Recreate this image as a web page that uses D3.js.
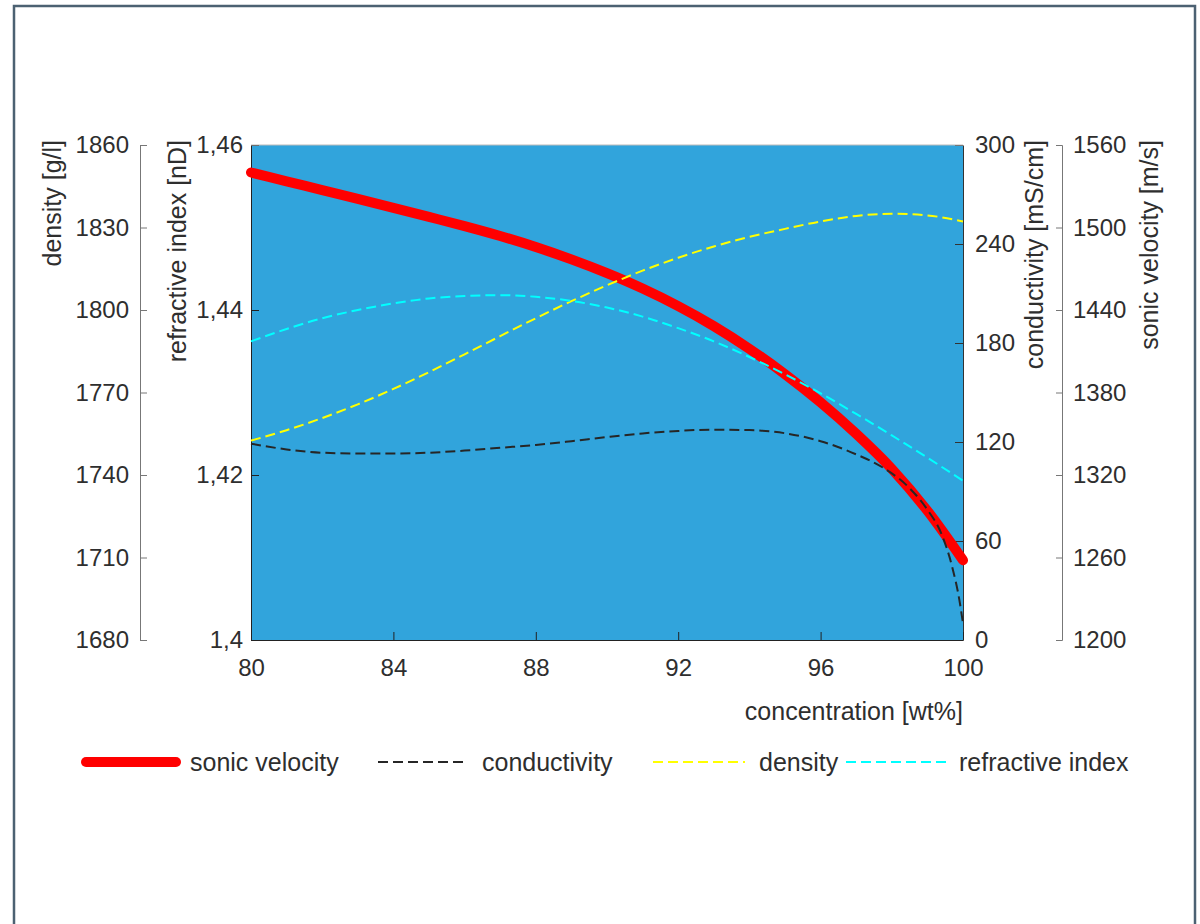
<!DOCTYPE html>
<html>
<head>
<meta charset="utf-8">
<script src="https://cdn.jsdelivr.net/npm/d3@7"></script>
<style>
  body { margin: 0; background: #fff; }
  svg { display: block; }
  text { font-family: "Liberation Sans", Arial, sans-serif; fill: #2e2e2e; }
  .tick text { font-size: 24px; }
</style>
</head>
<body>
<div id="chart"></div>
<script>
// concentration [wt%]
const conc = [80,81,82,83,84,85,86,87,88,89,90,91,92,93,94,95,96,97,98,99,100];
// sonic velocity [m/s]
const sonic = [1540,1533.6,1527.2,1520.8,1514.3,1507.7,1501,1493.8,1485.8,1476.8,1466.8,1455.6,1442.8,1428.3,1411.8,1393.3,1372.8,1350,1324.5,1294,1258];
// density [g/l]
const density = [1752.5,1756.3,1760.7,1765.7,1771.3,1777.4,1783.9,1790.5,1797,1803.2,1809,1814.3,1819,1823.1,1826.6,1829.5,1832.2,1834.2,1835,1834.4,1832.2];
// refractive index [nD]
const refr = [1.4362,1.4377,1.4390,1.4400,1.4408,1.4414,1.4417,1.4418,1.4416,1.4411,1.4403,1.4392,1.4378,1.4362,1.4343,1.4322,1.4299,1.4274,1.4248,1.4221,1.4193];
// conductivity [mS/cm] (denser near 100)
const condX = [80,81,82,83,84,85,86,87,88,89,90,91,92,93,94,95,96,97,97.75,98.5,99,99.4,99.7,99.9,100];
const condY = [119,115.5,113.5,113,113,113.5,114.8,116.5,118.2,120.5,123,125.2,126.7,127.5,127.2,125.3,120.5,112.5,104.5,92,79,64,44,24,10];

const xTicks = [80,84,88,92,96,100];
const densTicks = [1680,1710,1740,1770,1800,1830,1860];
const refrTicks = [1.40,1.42,1.44,1.46];
const condTicks = [0,60,120,180,240,300];
const sonicTicks = [1200,1260,1320,1380,1440,1500,1560];

const W = 1200, H = 924;
const L = 251, R = 963, T = 145, B = 640;

const svg = d3.select('#chart').append('svg').attr('width', W).attr('height', H);

// outer frame
svg.append('rect').attr('x', 14).attr('y', 6).attr('width', 1181).attr('height', 940)
   .attr('fill', 'none').attr('stroke', '#4c6172').attr('stroke-width', 2.5);

const x = d3.scaleLinear().domain([80, 100]).range([L, R]);
const yDens = d3.scaleLinear().domain([1680, 1860]).range([B, T]);
const yRefr = d3.scaleLinear().domain([1.40, 1.46]).range([B, T]);
const yCond = d3.scaleLinear().domain([0, 300]).range([B, T]);
const ySonic = d3.scaleLinear().domain([1200, 1560]).range([B, T]);

svg.append('rect').attr('x', L).attr('y', T).attr('width', R - L).attr('height', B - T)
   .attr('fill', '#31a4dc');

const comma = d => String(d).replace('.', ',');
const plain = d3.format('d');

function styleAxis(g, col) {
  g.select('.domain').attr('stroke', col);
  g.selectAll('.tick line').attr('stroke', col);
}

// density axis (outer left)
svg.append('g').attr('transform', 'translate(140,0)')
   .call(d3.axisRight(yDens).tickValues(densTicks).tickFormat(plain).tickSize(7).tickSizeOuter(7))
   .call(g => styleAxis(g, '#777'))
   .call(g => g.selectAll('.tick text').attr('x', -11).attr('text-anchor', 'end'));

// refractive index axis (plot left)
svg.append('g').attr('transform', `translate(${L},0)`)
   .call(d3.axisRight(yRefr).tickValues(refrTicks).tickFormat(comma).tickSize(8).tickSizeOuter(0))
   .call(g => styleAxis(g, '#222'))
   .call(g => g.selectAll('.tick text').attr('x', -8).attr('text-anchor', 'end'));

// conductivity axis (plot right)
svg.append('g').attr('transform', `translate(${R},0)`)
   .call(d3.axisLeft(yCond).tickValues(condTicks).tickFormat(plain).tickSize(8).tickSizeOuter(0))
   .call(g => styleAxis(g, '#333'))
   .call(g => g.selectAll('.tick text').attr('x', 12).attr('text-anchor', 'start'));

// sonic velocity axis (outer right)
svg.append('g').attr('transform', 'translate(1062,0)')
   .call(d3.axisLeft(ySonic).tickValues(sonicTicks).tickFormat(plain).tickSize(6).tickSizeOuter(6))
   .call(g => styleAxis(g, '#777'))
   .call(g => g.selectAll('.tick text').attr('x', 11).attr('text-anchor', 'start'));

// x axis
svg.append('g').attr('transform', `translate(0,${B})`)
   .call(d3.axisTop(x).tickValues(xTicks).tickFormat(plain).tickSize(8).tickSizeOuter(0))
   .call(g => styleAxis(g, '#222'))
   .call(g => g.selectAll('.tick text').attr('y', 28).attr('dy', '0.35em'));

// top edge of the plot box
svg.append('line').attr('x1', L).attr('x2', R).attr('y1', T).attr('y2', T)
   .attr('stroke', '#bbb').attr('stroke-width', 1);

// axis titles
function vTitle(xp, label) {
  svg.append('text').attr('transform', `translate(${xp},140) rotate(-90)`)
     .attr('text-anchor', 'end').attr('font-size', 25).text(label);
}
vTitle(61, 'density [g/l]');
vTitle(186, 'refractive index [nD]');
vTitle(1043, 'conductivity [mS/cm]');
vTitle(1158, 'sonic velocity [m/s]');

svg.append('text').attr('x', R).attr('y', 720).attr('text-anchor', 'end')
   .attr('font-size', 25).text('concentration [wt%]');

// series
const line = (ys) => d3.line().x(d => x(d)).y((d, i) => ys(i)).curve(d3.curveMonotoneX);

svg.append('path').datum(conc)
   .attr('d', line(i => ySonic(sonic[i])))
   .attr('fill', 'none').attr('stroke', '#ff0000').attr('stroke-width', 10).attr('stroke-linecap', 'round');

svg.append('path').datum(condX)
   .attr('d', line(i => yCond(condY[i])))
   .attr('fill', 'none').attr('stroke', '#262626').attr('stroke-width', 2).attr('stroke-dasharray', '10,5');

svg.append('path').datum(conc)
   .attr('d', line(i => yDens(density[i])))
   .attr('fill', 'none').attr('stroke', '#ffff00').attr('stroke-width', 2).attr('stroke-dasharray', '10,5');

svg.append('path').datum(conc)
   .attr('d', line(i => yRefr(refr[i])))
   .attr('fill', 'none').attr('stroke', '#00ffff').attr('stroke-width', 2).attr('stroke-dasharray', '10,5');

// legend
const legend = [
  { name: 'sonic velocity', col: '#ff0000', w: 10, dash: null, x1: 86, x2: 176, tx: 190 },
  { name: 'conductivity', col: '#262626', w: 2, dash: '10,5', x1: 378, x2: 468, tx: 482 },
  { name: 'density', col: '#ffff00', w: 2, dash: '10,5', x1: 653, x2: 745, tx: 759 },
  { name: 'refractive index', col: '#00ffff', w: 2, dash: '10,5', x1: 846, x2: 946, tx: 959 }
];
const lg = svg.append('g');
legend.forEach(d => {
  lg.append('line').attr('x1', d.x1).attr('x2', d.x2).attr('y1', 762).attr('y2', 762)
    .attr('stroke', d.col).attr('stroke-width', d.w).attr('stroke-linecap', d.dash ? 'butt' : 'round')
    .attr('stroke-dasharray', d.dash);
  lg.append('text').attr('x', d.tx).attr('y', 762).attr('dy', '0.35em')
    .attr('font-size', 25).text(d.name);
});
</script>
</body>
</html>
